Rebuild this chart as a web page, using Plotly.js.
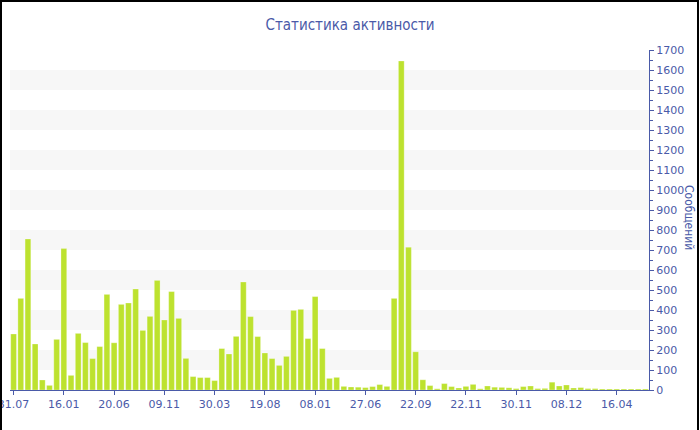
<!DOCTYPE html>
<html>
<head>
<meta charset="utf-8">
<script src="https://cdn.plot.ly/plotly-3.0.1.min.js"></script>
<style>
  html, body { margin: 0; padding: 0; background: #fff; }
  #wrap { position: relative; width: 700px; height: 430px; overflow: hidden; }
  #chart { width: 700px; height: 430px; }
  #frame { position: absolute; left: 0; top: 0; width: 699px; height: 440px;
           border-left: 2px solid #000; border-top: 2px solid #000; border-right: 2px solid #000;
           box-sizing: border-box; pointer-events: none; }
</style>
</head>
<body>
<div id="wrap">
  <div id="chart"></div>
  <div id="frame"></div>
</div>
<script>
const chartTitle = 'Статистика активности';
const yTitle = 'Сообщений';

const messages = [
  280, 458, 755, 230, 50, 23, 253, 707, 73, 283,
  237, 157, 217, 478, 236, 428, 435, 505, 298, 368,
  548, 350, 492, 358, 158, 67, 62, 62, 47, 207,
  180, 268, 540, 367, 267, 185, 157, 123, 168, 398,
  403, 257, 467, 207, 58, 63, 18, 15, 14, 12,
  17, 27, 18, 458, 1645, 714, 191, 51, 22, 6,
  32, 17, 10, 18, 28, 6, 20, 14, 13, 11,
  7, 17, 20, 7, 8, 39, 20, 25, 10, 12,
  7, 7, 5, 5, 5, 5, 5, 5, 5
];

const tickLabels = ['31.07', '16.01', '20.06', '09.11', '30.03', '19.08', '08.01',
                    '27.06', '22.09', '22.11', '30.11', '08.12', '16.04'];
const tickStep = 7;

const bandRanges = [[100, 200], [300, 400], [500, 600], [700, 800],
                    [900, 1000], [1100, 1200], [1300, 1400], [1500, 1600]];

const blue = '#4a5aa8';
const xIdx = messages.map((_, i) => i);
const tickVals = tickLabels.map((_, i) => i * tickStep);

const shapes = bandRanges.map(r => ({
  type: 'rect', xref: 'paper', yref: 'y', x0: 0, x1: 1, y0: r[0], y1: r[1],
  fillcolor: '#f7f7f7', line: { width: 0 }, layer: 'below'
}));

const trace = {
  type: 'bar',
  x: xIdx,
  y: messages,
  marker: { color: '#bde22f', line: { color: 'rgba(255,255,255,0.45)', width: 0.6 } },
  hoverinfo: 'y'
};

const layout = {
  width: 700, height: 430,
  margin: { l: 10, r: 51, t: 50, b: 40 },
  paper_bgcolor: '#ffffff',
  plot_bgcolor: 'rgba(0,0,0,0)',
  font: { family: 'DejaVu Sans, Verdana, sans-serif', size: 11, color: blue },
  title: { text: chartTitle, font: { family: 'DejaVu Sans Condensed, DejaVu Sans, sans-serif', size: 15, color: blue },
           x: 0.5, xref: 'container', y: 0.942, yref: 'container', yanchor: 'middle' },
  bargap: 0.2,
  showlegend: false,
  xaxis: {
    range: [-0.5, messages.length - 0.5],
    tickmode: 'array', tickvals: tickVals, ticktext: tickLabels,
    ticklabeloverflow: 'allow',
    showline: true, linecolor: blue, linewidth: 1,
    ticks: 'outside', ticklen: 4, tickcolor: blue,
    showgrid: false, zeroline: false,
    tickfont: { size: 11, color: blue }
  },
  yaxis: {
    side: 'right', range: [0, 1700], dtick: 100,
    showline: true, linecolor: blue, linewidth: 1,
    ticks: 'outside', ticklen: 4, tickcolor: blue,
    minor: { dtick: 50, ticks: 'outside', ticklen: 3, tickcolor: blue },
    showgrid: false, zeroline: false,
    tickfont: { size: 11, color: blue }
  },
  shapes: shapes,
  annotations: [{
    text: yTitle, xref: 'paper', yref: 'paper', x: 1.0625, y: 0.506,
    xanchor: 'center', yanchor: 'middle', textangle: 90, showarrow: false,
    font: { family: 'DejaVu Sans Condensed, DejaVu Sans, sans-serif', size: 12, color: blue }
  }]
};

Plotly.newPlot('chart', [trace], layout, { displayModeBar: false, staticPlot: true });
</script>
</body>
</html>
